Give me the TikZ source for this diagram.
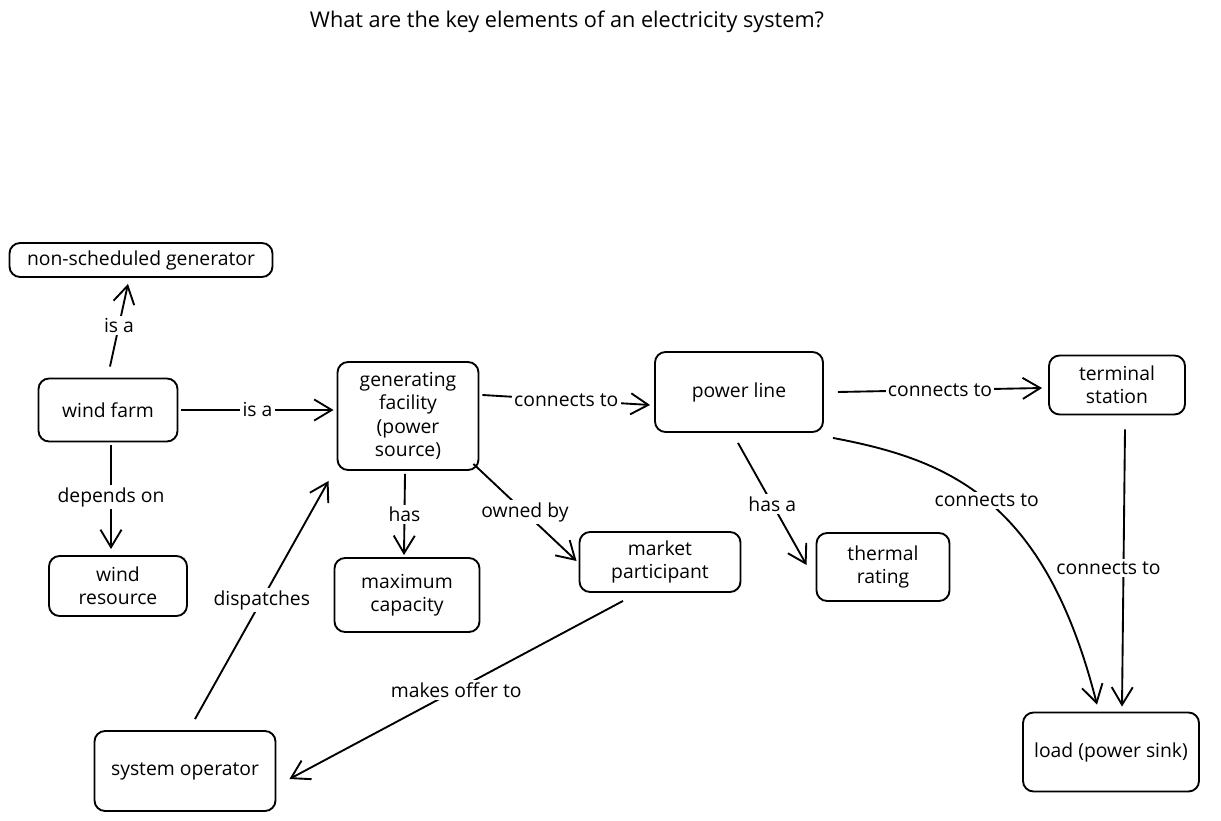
\documentclass[tikz,border=0pt]{standalone}
\usepackage{fontspec}
\setmainfont{Open Sans}
\usetikzlibrary{arrows.meta,calc}
\begin{document}
\begin{tikzpicture}[x=0.03cm,y=-0.03cm,
  every node/.style={font=\fontsize{16.5}{20}\selectfont},
  box/.style={draw, line width=1.6pt, rounded corners=9pt, align=center, inner sep=0pt},
  conn/.style={line width=1.6pt, -{Straight Barb[length=15pt,width=18pt,line width=1.6pt]}},
  lbl/.style={fill=white, inner sep=2pt}]
\useasboundingbox (0,0) rectangle (1221,821);
\fill[white] (0,0) rectangle (1221,821);

\node[font=\fontsize{18.5}{22}\selectfont] (title) at (567,22) {What are the key elements of an electricity system?};

\node[box, minimum width=7.89cm, minimum height=1.02cm] (nsg) at (141,260) {non-scheduled generator};
\node[box, minimum width=4.17cm, minimum height=1.89cm] (wf) at (108,410) {wind farm};
\node[box, minimum width=4.23cm, minimum height=3.24cm] (gf) at (408,416) {generating\\facility\\(power\\source)};
\node[box, minimum width=5.04cm, minimum height=2.40cm] (pl) at (739,392) {power line};
\node[box, minimum width=4.08cm, minimum height=1.77cm] (ts) at (1117,385) {terminal\\station};
\node[box, minimum width=4.14cm, minimum height=1.80cm] (wr) at (118,586) {wind\\resource};
\node[box, minimum width=4.35cm, minimum height=2.22cm] (mc) at (407,595) {maximum\\capacity};
\node[box, minimum width=4.83cm, minimum height=1.80cm] (mp) at (660,562) {market\\participant};
\node[box, minimum width=3.99cm, minimum height=2.04cm] (tr) at (883,567) {thermal\\rating};
\node[box, minimum width=5.43cm, minimum height=2.40cm] (so) at (185,771) {system operator};
\node[box, minimum width=5.28cm, minimum height=2.37cm] (ld) at (1111,752) {load (power sink)};

\draw[conn] ($(wf.north)+(2,-11)$) -- node[lbl] {is a} ($(nsg.south)+(-13,6)$);
\draw[conn] ($(wf.east)+(3,0)$) -- node[lbl] {is a} ($(gf.west |- wf.east)+(-3,0)$);
\draw[conn] ($(wf.south)+(3,3)$) -- node[lbl] {depends on} ($(wr.north)+(-7,-6)$);
\draw[conn] ($(gf.east)+(3,-21)$) -- node[lbl] {connects to} ($(pl.west)+(-4,13)$);
\draw[conn] ($(pl.east)+(14,0)$) -- node[lbl] {connects to} ($(ts.west)+(-6,3)$);
\draw[conn] ($(pl.south east)+(9,5)$) .. controls (950,460) and (1045,500) .. node[lbl, pos=0.49] {connects to} ($(ld.north)+(-14,-7)$);
\draw[conn] ($(ts.south)+(8,14)$) -- node[lbl, xshift=-0.45cm] {connects to} ($(ld.north)+(11,-5)$);
\draw[conn] ($(pl.south)+(-1,10)$) -- node[lbl] {has a} ($(tr.west)+(-9,-2)$);
\draw[conn] ($(gf.south)+(-3,3)$) -- node[lbl] {has} ($(mc.north)+(-3,-2)$);
\draw[conn] ($(gf.south east)+(-6,-7)$) -- node[lbl] {owned by} ($(mp.west)+(-2,-1)$);
\draw[conn] ($(so.north)+(10,-11)$) -- node[lbl] {dispatches} ($(gf.south west)+(-8,10)$);
\draw[conn] ($(mp.south)+(-37,8)$) -- node[lbl] {makes offer to} ($(so.east)+(13,8)$);
\end{tikzpicture}
\end{document}
